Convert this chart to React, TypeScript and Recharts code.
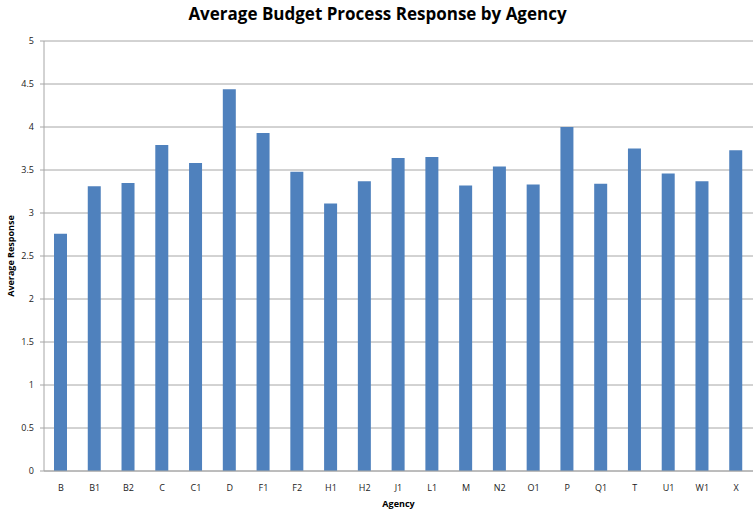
import React from "react";
import { BarChart, Bar, XAxis, YAxis, CartesianGrid } from "recharts";

const agencies = ["B", "B1", "B2", "C", "C1", "D", "F1", "F2", "H1", "H2", "J1", "L1", "M", "N2", "O1", "P", "Q1", "T", "U1", "W1", "X"];
const responses = [2.76, 3.31, 3.35, 3.79, 3.58, 4.44, 3.93, 3.48, 3.11, 3.37, 3.64, 3.65, 3.32, 3.54, 3.33, 4.0, 3.34, 3.75, 3.46, 3.37, 3.73];
const yTicks = [0, 0.5, 1, 1.5, 2, 2.5, 3, 3.5, 4, 4.5, 5];

const data = agencies.map((a, i) => ({ agency: a, value: responses[i] }));

const font = "'Open Sans', 'Liberation Sans', sans-serif";

export default function App() {
  return (
    <div style={{ position: "absolute", left: 0, top: 0, width: 755, height: 513, background: "#fff", fontFamily: font }}>
      <div style={{ position: "absolute", left: 0, top: 2, width: 755, textAlign: "center", fontSize: 17, fontWeight: 700, color: "#000" }}>
        Average Budget Process Response by Agency
      </div>
      <div style={{ position: "absolute", left: 10, top: 256, width: 0, height: 0 }}>
        <div style={{ position: "absolute", transform: "translate(-50%, -50%) rotate(-90deg)", whiteSpace: "nowrap", fontSize: 9, fontWeight: 700, color: "#000" }}>
          Average Response
        </div>
      </div>
      <div style={{ position: "absolute", left: 44, top: 497, width: 709, textAlign: "center", fontSize: 9, fontWeight: 700, color: "#000" }}>
        Agency
      </div>
      <BarChart width={755} height={513} data={data} margin={{ top: 41, right: 2, bottom: 12, left: 0 }} barSize={13}>
        <CartesianGrid horizontal vertical={false} stroke="#a6a6a6" strokeWidth={1} />
        <XAxis
          dataKey="agency"
          tickLine={false}
          axisLine={{ stroke: "#a6a6a6" }}
          tick={{ fontSize: 9, fill: "#222", fontFamily: font }}
          height={30}
          interval={0}
          tickMargin={8}
        />
        <YAxis
          domain={[0, 5]}
          ticks={yTicks}
          width={44}
          tickLine={{ stroke: "#a6a6a6" }}
          tickSize={4}
          axisLine={{ stroke: "#a6a6a6" }}
          tick={{ fontSize: 9, fill: "#222", fontFamily: font }}
          tickMargin={6}
          interval={0}
        />
        <Bar dataKey="value" fill="#4F81BD" isAnimationActive={false} />
      </BarChart>
    </div>
  );
}
